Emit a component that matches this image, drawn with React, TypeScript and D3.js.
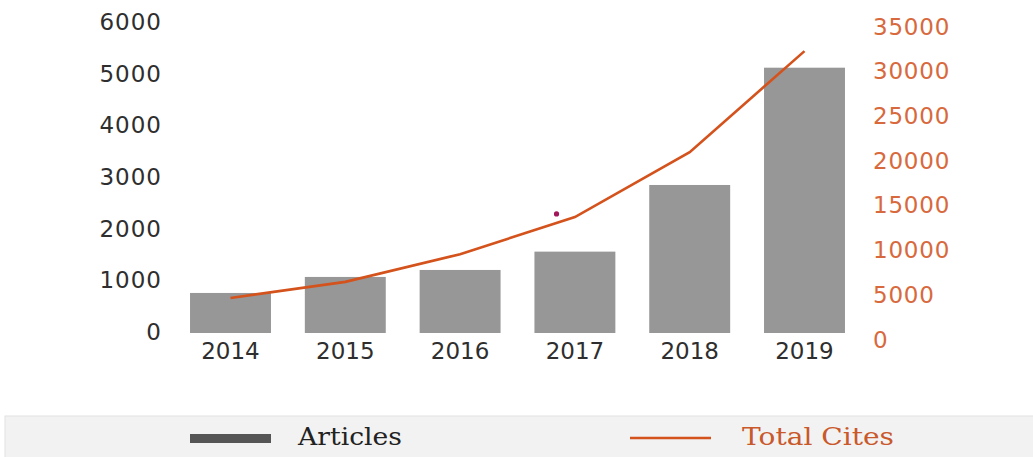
import React from "react";
import * as d3 from "d3";

const years = ["2014", "2015", "2016", "2017", "2018", "2019"];
const articles = [775, 1085, 1220, 1575, 2865, 5135];
const totalCites = [4700, 6500, 9600, 13750, 21000, 32300];
const leftTicks = [0, 1000, 2000, 3000, 4000, 5000, 6000];
const rightTicks = [0, 5000, 10000, 15000, 20000, 25000, 30000, 35000];
const strayDot = { year: "2017", offset: -0.16, value: 14100 };

const W = 1033;
const H = 457;
const BAR = "#979797";
const LINE = "#d4521c";
const RIGHT_TXT = "#d8693c";
const TXT = "#2e2e2e";
const AXIS_FONT = "'DejaVu Sans', Verdana, sans-serif";
const LEG_FONT = "'DejaVu Serif', serif";

export default function App() {
  const x = d3
    .scaleBand<string>()
    .domain(years)
    .range([173.1, 861.9])
    .paddingInner(0.295)
    .paddingOuter(0.1475);
  const yL = d3.scaleLinear().domain([0, 6000]).range([333, 23]);
  const yR = d3.scaleLinear().domain([0, 35000]).range([340, 27]);
  const cx = (y: string) => (x(y) ?? 0) + x.bandwidth() / 2;

  const line = d3
    .line<number>()
    .x((_, i) => cx(years[i]))
    .y((d) => yR(d));

  return (
    <svg
      width={W}
      height={H}
      style={{ position: "absolute", left: 0, top: 0, background: "#fff" }}
    >
      {articles.map((v, i) => (
        <rect
          key={years[i]}
          x={x(years[i])}
          y={yL(v)}
          width={x.bandwidth()}
          height={yL(0) - yL(v)}
          fill={BAR}
        />
      ))}
      <path d={line(totalCites) ?? ""} fill="none" stroke={LINE} strokeWidth={2.6} />
      <circle
        cx={cx(strayDot.year) + strayDot.offset * x.step()}
        cy={yR(strayDot.value)}
        r={2.6}
        fill="#a3175b"
      />
      {leftTicks.map((t) => (
        <text
          key={t}
          x={162}
          y={yL(t)}
          dy="0.3em"
          textAnchor="end"
          fontFamily={AXIS_FONT}
          fontSize={23}
          letterSpacing={1}
          fill={TXT}
        >
          {t}
        </text>
      ))}
      {rightTicks.map((t) => (
        <text
          key={t}
          x={873}
          y={yR(t)}
          dy="0.33em"
          textAnchor="start"
          fontFamily={AXIS_FONT}
          fontSize={23}
          letterSpacing={0.8}
          fill={RIGHT_TXT}
        >
          {t}
        </text>
      ))}
      {years.map((y) => (
        <text
          key={y}
          x={cx(y)}
          y={351}
          dy="0.36em"
          textAnchor="middle"
          fontFamily={AXIS_FONT}
          fontSize={23}
          fill={TXT}
        >
          {y}
        </text>
      ))}
      <rect x={5} y={416} width={1040} height={50} fill="#f2f2f2" stroke="#e2e2e2" />
      <rect x={190} y={434} width={81} height={9} fill="#555555" />
      <text
        x={298}
        y={445}
        fontFamily={LEG_FONT}
        fontSize={25}
        textLength={104}
        lengthAdjust="spacingAndGlyphs"
        fill="#222"
      >
        Articles
      </text>
      <line x1={630} x2={711} y1={438} y2={438} stroke={LINE} strokeWidth={2.5} />
      <text
        x={742}
        y={445}
        fontFamily={LEG_FONT}
        fontSize={25}
        textLength={152}
        lengthAdjust="spacingAndGlyphs"
        fill="#c9582b"
      >
        Total Cites
      </text>
    </svg>
  );
}
